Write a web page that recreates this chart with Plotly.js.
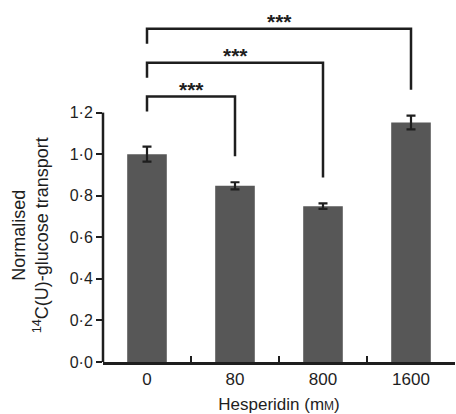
<!DOCTYPE html>
<html>
<head>
<meta charset="utf-8">
<script src="https://cdn.plot.ly/plotly-3.0.1.min.js"></script>
<style>html,body{margin:0;padding:0;background:#fff;}#chart{width:456px;height:414px;}</style>
</head>
<body>
<div id="chart"></div>
<script>
// ---- data ----
const categories = ['0', '80', '800', '1600'];
const transport = [1.00, 0.848, 0.750, 1.152];
const transportErr = [0.036, 0.017, 0.013, 0.033];
const yTickVals = [0, 0.2, 0.4, 0.6, 0.8, 1.0, 1.2];
const yTickText = ['0·0', '0·2', '0·4', '0·6', '0·8', '1·0', '1·2'];
const comparisons = [[0, 1], [0, 2], [0, 3]];
const sigLabels = ['***', '***', '***'];

// ---- styling / layout constants ----
const ink = '#1e1e1e';
const font = 'Liberation Sans, Arial, Helvetica, sans-serif';
const bracketBase = 1.277, bracketStep = 0.163, leftDrop = 0.072, rightGap = 0.125;

const bar = {
  type: 'bar',
  x: categories,
  y: transport,
  width: 0.45,
  marker: {color: '#575757', line: {width: 0}},
  error_y: {type: 'data', array: transportErr, visible: true, color: ink, thickness: 2.2, width: 4.5},
  hoverinfo: 'skip'
};

const shapes = [];
const annotations = [];
// y axis line only spanning 0 .. 1.2
shapes.push({type: 'line', xref: 'paper', yref: 'y', x0: 0, x1: 0, y0: 0, y1: yTickVals[yTickVals.length - 1],
  line: {color: ink, width: 2.5}});

comparisons.forEach(([a, b], i) => {
  const level = bracketBase + bracketStep * i;
  const leftEnd = level - leftDrop;
  const rightEnd = Math.min(transport[b] + transportErr[b] + rightGap, level - 0.05);
  shapes.push({type: 'path', xref: 'x', yref: 'y',
    path: `M ${a},${leftEnd} L ${a},${level} L ${b},${level} L ${b},${rightEnd}`,
    line: {color: ink, width: 2.5}});
  annotations.push({xref: 'x', yref: 'y', x: (a + b) / 2, y: level + 0.034, text: '<b>' + sigLabels[i] + '</b>',
    showarrow: false, yanchor: 'middle', font: {family: font, size: 21, color: ink}});
});

annotations.push({xref: 'paper', yref: 'y', x: 0, y: 0.61, xshift: -73, textangle: -90,
  text: 'Normalised<br><sup>14</sup>C(U)-glucose transport', showarrow: false,
  xanchor: 'center', yanchor: 'middle', font: {family: font, size: 18, color: ink}});

const layout = {
  width: 456, height: 414,
  margin: {l: 103, r: 1, t: 17, b: 52},
  paper_bgcolor: '#ffffff', plot_bgcolor: '#ffffff',
  showlegend: false,
  font: {family: font, size: 16, color: ink},
  xaxis: {
    type: 'category', range: [-0.5, 3.5],
    showline: true, linecolor: ink, linewidth: 2.5,
    ticks: 'inside', tickson: 'boundaries', ticklen: 6, tickwidth: 2, tickcolor: ink,
    showgrid: false, zeroline: false,
    tickfont: {family: font, size: 17, color: ink},
    title: {text: 'Hesperidin (m<span style="font-size:12px">M</span>)', standoff: 10,
      font: {family: font, size: 17, color: ink}}
  },
  yaxis: {
    range: [0, 1.66], showline: false, showgrid: false, zeroline: false,
    tickmode: 'array', tickvals: yTickVals, ticktext: yTickText,
    ticks: 'outside', ticklen: 6, tickwidth: 2, tickcolor: ink,
    tickfont: {family: font, size: 16, color: ink}
  },
  shapes: shapes,
  annotations: annotations
};

Plotly.newPlot('chart', [bar], layout, {staticPlot: true, displayModeBar: false});
</script>
</body>
</html>
